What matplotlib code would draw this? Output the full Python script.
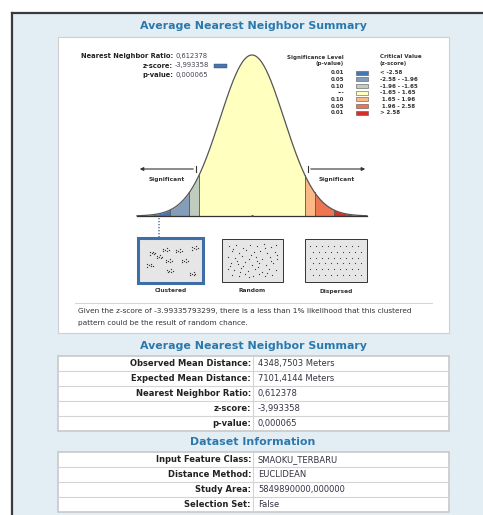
import numpy as np
import matplotlib
matplotlib.use("Agg")
import matplotlib.pyplot as plt
from matplotlib.patches import Rectangle

W, H = 483, 515

# ---- data ----
crit_edges = [-3.6, -2.58, -1.96, -1.65, 1.65, 1.96, 2.58, 3.6]
bin_colors = ['#4575b5', '#849eba', '#c0ccbe', '#ffffbf', '#fab984', '#ed7551', '#d62f27']
p_levels = ['0.01', '0.05', '0.10', '---', '0.10', '0.05', '0.01']
crit_labels = ['< -2.58', '-2.58 - -1.96', '-1.96 - -1.65', '-1.65 - 1.65',
               ' 1.65 - 1.96', ' 1.96 - 2.58', '> 2.58']

info_labels = ['Nearest Neighbor Ratio:', 'z-score:', 'p-value:']
info_values = ['0,612378', '-3,993358', '0,000065']
z_marker = -2.9   # where the report drops the dotted marker (clustered bin)

pattern_labels = ['Clustered', 'Random', 'Dispersed']

summary_title = 'Average Nearest Neighbor Summary'
summary_labels = ['Observed Mean Distance:', 'Expected Mean Distance:',
                  'Nearest Neighbor Ratio:', 'z-score:', 'p-value:']
summary_values = ['4348,7503 Meters', '7101,4144 Meters', '0,612378',
                  '-3,993358', '0,000065']

dataset_title = 'Dataset Information'
dataset_labels = ['Input Feature Class:', 'Distance Method:', 'Study Area:',
                  'Selection Set:']
dataset_values = ['SMAOKU_TERBARU', 'EUCLIDEAN', '5849890000,000000', 'False']

message_lines = ['Given the z-score of -3.99335793299, there is a less than 1% likelihood that this clustered',
                 'pattern could be the result of random chance.']

# icon dot layouts (unit box coords, v downwards)
cluster_centers = [(0.18, 0.31), (0.41, 0.22), (0.63, 0.25), (0.90, 0.18),
                   (0.14, 0.62), (0.46, 0.50), (0.73, 0.50), (0.48, 0.76),
                   (0.86, 0.84), (0.30, 0.40)]
cluster_offsets = [(0, 0), (0.035, 0.03), (-0.03, 0.04), (0.03, -0.04),
                   (-0.035, -0.02), (0.06, 0.01)]
random_pts = [(0.08, 0.12), (0.20, 0.08), (0.33, 0.15), (0.45, 0.07), (0.58, 0.12),
              (0.70, 0.06), (0.84, 0.14), (0.93, 0.09), (0.12, 0.25), (0.26, 0.30),
              (0.38, 0.22), (0.52, 0.28), (0.64, 0.24), (0.77, 0.30), (0.90, 0.27),
              (0.06, 0.40), (0.18, 0.44), (0.31, 0.38), (0.43, 0.46), (0.56, 0.40),
              (0.68, 0.45), (0.81, 0.41), (0.94, 0.47), (0.10, 0.56), (0.24, 0.60),
              (0.36, 0.54), (0.49, 0.62), (0.62, 0.57), (0.74, 0.63), (0.88, 0.58),
              (0.05, 0.72), (0.17, 0.76), (0.29, 0.70), (0.41, 0.78), (0.55, 0.73),
              (0.67, 0.80), (0.80, 0.72), (0.93, 0.77), (0.12, 0.88), (0.25, 0.92),
              (0.37, 0.86), (0.50, 0.91), (0.61, 0.87), (0.73, 0.93), (0.86, 0.89),
              (0.15, 0.18), (0.47, 0.34), (0.72, 0.16), (0.22, 0.52), (0.58, 0.50),
              (0.84, 0.52), (0.33, 0.64), (0.09, 0.65), (0.60, 0.68), (0.44, 0.95),
              (0.95, 0.35), (0.28, 0.82), (0.76, 0.85)]

title_color = '#2b78ad'
label_color = '#222222'
value_color = '#333344'

fig = plt.figure(figsize=(W / 100, H / 100), dpi=100)
fig.patch.set_facecolor('white')
bg = fig.add_axes([0, 0, 1, 1])
bg.set_xlim(0, W)
bg.set_ylim(H, 0)
bg.axis('off')

# outer frame and page background
bg.add_patch(Rectangle((12, 12.5), W, H, facecolor='#e3eef4', edgecolor='none'))
bg.plot([12, W], [12.5, 12.5], color='#3a3a3a', lw=1.6)
bg.plot([12, 12], [12.5, H], color='#3a3a3a', lw=1.6)

# white panel for the graphic
bg.add_patch(Rectangle((58, 37), 391, 296, facecolor='white', edgecolor='#cfcfcf', lw=0.8))
bg.text(253, 26, summary_title, ha='center', va='center', fontsize=7.9,
        fontweight='bold', color=title_color)

# top-left info block
for i, (lab, val) in enumerate(zip(info_labels, info_values)):
    y = 56 + 9.5 * i
    bg.text(173, y, lab, ha='right', va='center', fontsize=4.9, fontweight='bold', color=label_color)
    bg.text(175, y, val, ha='left', va='center', fontsize=4.9, color='#444455')
bg.add_patch(Rectangle((214, 64.3), 13, 3.4, facecolor=bin_colors[0], edgecolor='#444', lw=0.3))

# legend
fs_leg = 4.0
bg.text(344, 57, 'Significance Level', ha='right', va='center', fontsize=fs_leg, fontweight='bold', color='#333')
bg.text(344, 64, '(p-value)', ha='right', va='center', fontsize=fs_leg, fontweight='bold', color='#333')
bg.text(380, 57, 'Critical Value', ha='left', va='center', fontsize=fs_leg, fontweight='bold', color='#333')
bg.text(380, 64, '(z-score)', ha='left', va='center', fontsize=fs_leg, fontweight='bold', color='#333')
for i, (p, c, lab) in enumerate(zip(p_levels, bin_colors, crit_labels)):
    y = 72.7 + 6.67 * i
    bg.text(344, y, p, ha='right', va='center', fontsize=fs_leg, fontweight='bold', color='#333')
    bg.add_patch(Rectangle((356, y - 2.1), 12, 4.2, facecolor=c, edgecolor='#555', lw=0.4))
    bg.text(380, y, lab, ha='left', va='center', fontsize=fs_leg, fontweight='bold', color='#333')

# bell curve in z units
ax = fig.add_axes([137 / W, 1 - 216 / H, 230 / W, 161 / H])
ax.axis('off')
pdf = lambda t: np.exp(-np.asarray(t) ** 2 / 2) / np.sqrt(2 * np.pi)
for lo, hi, c in zip(crit_edges[:-1], crit_edges[1:], bin_colors):
    zz = np.linspace(lo, hi, 120)
    ax.fill_between(zz, 0, pdf(zz), color=c, lw=0)
for e in crit_edges[1:-1]:
    ax.plot([e, e], [0, pdf(e)], color='#555555', lw=0.6)
zz = np.linspace(crit_edges[0], crit_edges[-1], 600)
ax.plot(zz, pdf(zz), color='#555555', lw=0.9, clip_on=False)
ax.plot([crit_edges[0], crit_edges[-1]], [0, 0], color='#333333', lw=0.9, clip_on=False)
ax.plot([0], [0], marker='o', ms=1, color='#444')
ax.set_xlim(crit_edges[0], crit_edges[-1])
ax.set_ylim(0, pdf(0))

# significance arrows and labels
arrow = dict(arrowstyle='-|>', color='#333333', lw=0.8, mutation_scale=5)
bg.annotate('', xy=(137, 169), xytext=(196, 169), arrowprops=arrow)
bg.annotate('', xy=(368, 169), xytext=(308, 169), arrowprops=arrow)
bg.plot([196, 196], [166, 172], color='#333', lw=0.8)
bg.plot([308, 308], [166, 172], color='#333', lw=0.8)
fs_small = 4.2
bg.text(167, 180, 'Significant', ha='center', va='center', fontsize=fs_small, fontweight='bold', color='#333')
bg.text(337, 180, 'Significant', ha='center', va='center', fontsize=fs_small, fontweight='bold', color='#333')
bg.text(252, 170, '(Random)', ha='center', va='center', fontsize=fs_small, fontweight='bold', color='#333')

# dotted marker from the curve down to the clustered icon
mx = 252 + 32 * z_marker
bg.plot([mx, mx], [218, 237], color='#6a7fa0', lw=1.2, ls=(0, (0.8, 1.0)))

# pattern icons
boxes = [(138, 238, 65, 45), (222, 239, 61, 43), (305, 239, 62, 43)]
for k, ((x0, y0, w, h), lab) in enumerate(zip(boxes, pattern_labels)):
    if k == 0:
        bg.add_patch(Rectangle((x0, y0), w, h, facecolor='#e6e6e6', edgecolor='#3d6ea8', lw=2.2))
        pts = [(cx + dx, cy + dy) for cx, cy in cluster_centers for dx, dy in cluster_offsets]
        s = 0.9
    elif k == 1:
        bg.add_patch(Rectangle((x0, y0), w, h, facecolor='#e6e6e6', edgecolor='#333', lw=0.7))
        pts = random_pts
        s = 0.8
    else:
        bg.add_patch(Rectangle((x0, y0), w, h, facecolor='#e6e6e6', edgecolor='#333', lw=0.7))
        pts = [((c + 0.5 * (r % 2) + 0.4) / 9.4, (r + 0.6) / 6.2) for r in range(6) for c in range(9)]
        s = 0.7
    xs = [x0 + 3 + u * (w - 6) for u, v in pts]
    ys = [y0 + 3 + v * (h - 6) for u, v in pts]
    bg.scatter(xs, ys, s=s, color='#333333', lw=0)
    bg.text(x0 + w / 2, 291, lab, ha='center', va='center', fontsize=fs_small, fontweight='bold', color='#333')

# explanatory message
bg.plot([75, 432], [302.5, 302.5], color='#cccccc', lw=0.6)
for i, line in enumerate(message_lines):
    bg.text(78, 311 + 12 * i, line, ha='left', va='center', fontsize=5.3, color='#333333')


def draw_table(top, labels, values, row_h=15, x0=58, xm=253, x1=449):
    n = len(labels)
    bg.add_patch(Rectangle((x0, top), x1 - x0, n * row_h, facecolor='white',
                           edgecolor='#c8c8c8', lw=1.2))
    for i in range(1, n):
        bg.plot([x0, x1], [top + i * row_h] * 2, color='#d4d4d4', lw=0.8)
    bg.plot([xm, xm], [top, top + n * row_h], color='#d4d4d4', lw=0.8)
    for i, (lab, val) in enumerate(zip(labels, values)):
        y = top + (i + 0.5) * row_h
        bg.text(xm - 2, y, lab, ha='right', va='center', fontsize=6.0,
                fontweight='bold', color=label_color)
        bg.text(xm + 5, y, val, ha='left', va='center', fontsize=6.0, color=value_color)


bg.text(253, 346, summary_title, ha='center', va='center', fontsize=7.9,
        fontweight='bold', color=title_color)
draw_table(356, summary_labels, summary_values)

bg.text(253, 442, dataset_title, ha='center', va='center', fontsize=7.9,
        fontweight='bold', color=title_color)
draw_table(452, dataset_labels, dataset_values)

fig.savefig('out.png', dpi=100, facecolor='white')
